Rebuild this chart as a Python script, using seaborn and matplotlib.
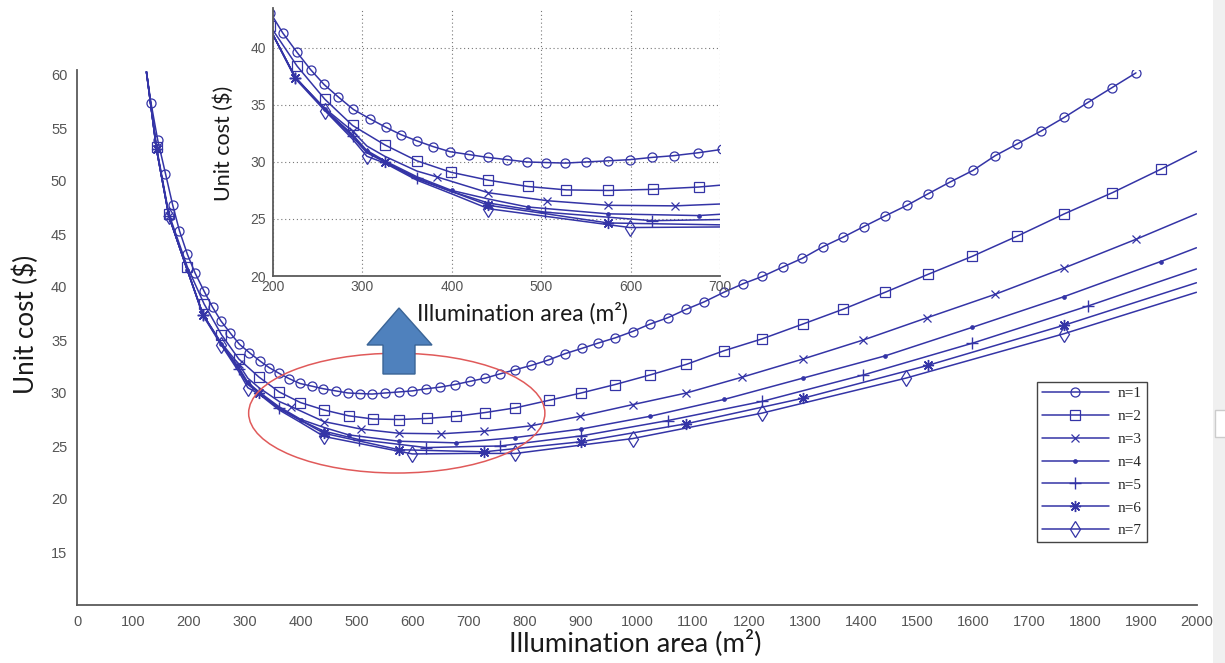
import matplotlib
matplotlib.use("Agg")
import matplotlib.pyplot as plt
import seaborn as sns
from matplotlib.lines import Line2D
from matplotlib.patches import Ellipse, Polygon, Rectangle

# Unit cost ($) against illumination area (m^2) for n = 1..7
area_n1 = [124, 132, 144, 158, 171, 183, 197, 211, 227, 242, 257, 273, 290, 308, 326, 343,
           361, 379, 398, 419, 440, 462, 484, 505, 527, 550, 575, 599, 624, 648, 675, 702,
           729, 755, 783, 811, 841, 871, 901, 930, 961, 992, 1023, 1055, 1088, 1120, 1155,
           1189, 1224, 1261, 1295, 1332, 1368, 1405, 1443, 1482, 1520, 1559, 1600, 1640,
           1679, 1721, 1763, 1805, 1848, 1891]
cost_n1 = [60.3, 57.4, 53.9, 50.7, 47.7, 45.3, 43.1, 41.3, 39.6, 38.1, 36.8, 35.7, 34.6, 33.8,
           33.05, 32.4, 31.85, 31.35, 30.9, 30.65, 30.4, 30.2, 30.0, 29.95, 29.9, 30.0, 30.1,
           30.2, 30.4, 30.55, 30.8, 31.1, 31.4, 31.8, 32.2, 32.6, 33.1, 33.7, 34.2, 34.7, 35.2,
           35.8, 36.5, 37.1, 37.9, 38.6, 39.5, 40.3, 41.0, 41.9, 42.7, 43.8, 44.7, 45.7, 46.7,
           47.7, 48.8, 49.9, 51.0, 52.4, 53.5, 54.7, 56.0, 57.4, 58.8, 60.2]
marks_n1 = area_n1[1:]

area_n2 = [124, 142, 164, 197, 227, 258, 289, 325, 361, 399, 441, 485, 528, 575, 625, 676, 728,
           783, 842, 900, 961, 1023, 1088, 1156, 1223, 1296, 1368, 1443, 1520, 1599, 1679,
           1763, 1849, 1935, 1999]
cost_n2 = [60.3, 53.2, 46.9, 41.9, 38.4, 35.5, 33.2, 31.5, 30.1, 29.1, 28.4, 27.85, 27.55, 27.5,
           27.6, 27.8, 28.15, 28.6, 29.3, 30.0, 30.8, 31.7, 32.7, 34.0, 35.1, 36.5, 37.9, 39.5,
           41.2, 42.9, 44.8, 46.9, 48.9, 51.1, 52.8]
marks_n2 = area_n2[1:-1]

area_n3 = [124, 142, 164, 197, 225, 258, 289, 305, 325, 361, 383, 441, 507, 575, 650, 727, 810,
           898, 992, 1088, 1188, 1296, 1404, 1518, 1639, 1763, 1891, 1999]
cost_n3 = [60.3, 53.0, 46.7, 41.6, 37.4, 34.7, 32.7, 31.4, 30.5, 29.2, 28.7, 27.3, 26.6, 26.2,
           26.15, 26.4, 26.9, 27.8, 28.9, 30.0, 31.5, 33.2, 35.0, 37.1, 39.3, 41.8, 44.5, 46.9]
marks_n3 = [164, 225, 289, 383, 441, 507, 575, 650, 727, 810, 898, 992, 1088, 1188, 1296, 1404,
            1518, 1639, 1763, 1891]

area_n4 = [124, 142, 164, 197, 225, 258, 289, 305, 325, 361, 400, 441, 485, 575, 676, 783, 900,
           1023, 1156, 1296, 1443, 1599, 1763, 1935, 1999]
cost_n4 = [60.3, 53.0, 46.7, 41.6, 37.4, 34.6, 32.4, 31.0, 30.1, 28.7, 27.5, 26.75, 26.05, 25.45,
           25.3, 25.8, 26.6, 27.8, 29.4, 31.4, 33.5, 36.2, 39.1, 42.4, 43.7]
marks_n4 = [142, 197, 258, 305, 400, 485, 575, 676, 783, 900, 1023, 1156, 1296, 1443, 1599,
            1763, 1935]

area_n5 = [124, 142, 164, 197, 225, 258, 289, 305, 325, 361, 400, 441, 504, 624, 700, 755, 900,
           1055, 1223, 1404, 1599, 1805, 1999]
cost_n5 = [60.3, 53.0, 46.7, 41.6, 37.4, 34.6, 32.3, 30.9, 30.0, 28.6, 27.4, 26.4, 25.6, 24.85,
           24.95, 25.0, 25.95, 27.4, 29.2, 31.7, 34.7, 38.2, 41.7]
marks_n5 = [164, 225, 289, 361, 504, 624, 755, 900, 1055, 1223, 1404, 1599, 1805]

area_n6 = [124, 142, 164, 197, 225, 258, 289, 305, 325, 361, 400, 441, 575, 727, 900, 1088,
           1296, 1519, 1763, 1999]
cost_n6 = [60.3, 53.0, 46.7, 41.6, 37.4, 34.6, 32.2, 30.8, 30.0, 28.5, 27.4, 26.2, 24.65, 24.45,
           25.4, 27.1, 29.5, 32.6, 36.4, 40.4]
marks_n6 = [142, 225, 325, 441, 575, 727, 900, 1088, 1296, 1519, 1763]

area_n7 = [124, 142, 164, 197, 225, 258, 289, 305, 325, 361, 400, 441, 599, 700, 783, 992, 1223,
           1480, 1763, 1999]
cost_n7 = [60.3, 53.0, 46.7, 41.6, 37.3, 34.5, 32.0, 30.5, 29.9, 28.4, 27.2, 25.9, 24.25, 24.3,
           24.3, 25.7, 28.1, 31.4, 35.6, 39.5]
marks_n7 = [164, 258, 305, 441, 599, 783, 992, 1223, 1480, 1763]

labels = ["n=1", "n=2", "n=3", "n=4", "n=5", "n=6", "n=7"]
x_ticks = list(range(0, 2001, 100))
y_ticks = list(range(15, 61, 5))
inset_x_ticks = list(range(200, 701, 100))
inset_y_ticks = list(range(20, 41, 5))

series = [
    (area_n1, cost_n1, marks_n1),
    (area_n2, cost_n2, marks_n2),
    (area_n3, cost_n3, marks_n3),
    (area_n4, cost_n4, marks_n4),
    (area_n5, cost_n5, marks_n5),
    (area_n6, cost_n6, marks_n6),
    (area_n7, cost_n7, marks_n7),
]

LINE = "#3434A6"
styles = [
    dict(marker="o", ms=6.5, mfc="none", mew=0.9),
    dict(marker="s", ms=7, mfc="none", mew=0.9),
    dict(marker="x", ms=6, mew=0.9),
    dict(marker="o", ms=2.8, mfc=LINE, mew=0.5),
    dict(marker="+", ms=9, mew=1.0),
    dict(marker=(8, 2, 0), ms=8, mew=1.0),
    dict(marker="d", ms=8, mfc="none", mew=0.9),
]

sns.set_theme(style="white")
plt.rcParams["font.family"] = ["Liberation Sans", "DejaVu Sans"]

W, H = 1225, 663
fig = plt.figure(figsize=(W / 100, H / 100), dpi=100)
fig.patch.set_facecolor("white")


def fx(px):
    return px / W


def fy(py):
    return 1 - py / H


SPINE = "#5a5a5a"
TICKC = "#555555"


def draw_series(ax):
    for (xs, ys, mk), st in zip(series, styles):
        idx = [xs.index(m) for m in mk]
        sns.lineplot(x=xs, y=ys, ax=ax, color=LINE, lw=1.1, estimator=None, sort=False,
                     markevery=idx, mec=LINE, **st)


# main axes
ax = fig.add_axes([fx(77), fy(605), fx(1120), (605 - 69.7) / H])
draw_series(ax)
ax.set_xlim(0, 2000)
ax.set_ylim(10, 60.5)
ax.set_xticks(x_ticks)
ax.set_yticks(y_ticks)
for s in ["top", "right"]:
    ax.spines[s].set_visible(False)
for s in ["left", "bottom"]:
    ax.spines[s].set_color(SPINE)
    ax.spines[s].set_linewidth(1.3)
ax.tick_params(direction="in", length=8, width=1.2, color=SPINE, labelcolor=TICKC,
               labelsize=10.5, pad=7)
ax.set_xlabel("Illumination area (m²)", fontfamily="Lato", fontsize=19.7, color="#1a1a1a")
ax.set_ylabel("Unit cost ($)", fontfamily="Lato", fontsize=18.7, color="#1a1a1a")
ax.xaxis.set_label_coords((635 - 77) / 1120, -(643 - 605) / 535.3)
ax.yaxis.set_label_coords(-(77 - 26) / 1120, (605 - 324) / 535.3)
ax.xaxis.label.set_va("center")
ax.yaxis.label.set_va("center")

# highlighted minimum region
ax.add_patch(Ellipse((571, 28.1), 529, 11.3, fill=False, ec="#e05a5a", lw=1.1, zorder=5))

handles = [Line2D([], [], color=LINE, lw=1.1, mec=LINE, **st) for st in styles]
leg = ax.legend(handles, labels, loc="upper left", bbox_to_anchor=(fx(1037), fy(382)),
                bbox_transform=fig.transFigure, borderaxespad=0, frameon=True,
                fancybox=False, edgecolor="#444444", framealpha=1, handlelength=4.4,
                handletextpad=0.6, labelspacing=0.6, borderpad=0.3, numpoints=1,
                prop=dict(family="Liberation Serif", size=11))
leg.get_frame().set_linewidth(1.0)

# inset: zoom on 200-700 m^2
ins = fig.add_axes([fx(273), fy(276), fx(447), (276 - 8) / H])
ins.set_facecolor("white")
draw_series(ins)
ins.set_xlim(200, 700)
ins.set_ylim(20, 43.5)
ins.set_xticks(inset_x_ticks)
ins.set_yticks(inset_y_ticks)
ins.grid(True, linestyle=(0, (1, 2.5)), color="#777777", lw=0.8)
for s in ["top", "right"]:
    ins.spines[s].set_visible(False)
for s in ["left", "bottom"]:
    ins.spines[s].set_color(SPINE)
    ins.spines[s].set_linewidth(1.3)
ins.tick_params(direction="in", length=5, width=1, color=SPINE, labelcolor=TICKC,
                labelsize=10, pad=3)
ins.tick_params(axis="y", pad=5)
ins.set_xlabel("Illumination area (m²)", fontfamily="Lato", fontsize=16.4, color="#1a1a1a")
ins.set_ylabel("Unit cost ($)", fontfamily="Lato", fontsize=15.5, color="#1a1a1a")
ins.xaxis.set_label_coords((522 - 273) / 447, -(313 - 276) / 268)
ins.yaxis.set_label_coords(-(273 - 224) / 447, (276 - 143) / 268)
ins.xaxis.label.set_va("center")
ins.yaxis.label.set_va("center")

# arrow pointing from the ellipse to the inset
arrow_px = [(399, 308), (432, 345), (415, 345), (415, 374), (383, 374), (383, 345), (367, 345)]
fig.patches.append(Polygon([(fx(a), fy(b)) for a, b in arrow_px], closed=True,
                           transform=fig.transFigure, fc="#4f81bd", ec="#3a6496", lw=1,
                           zorder=6))

# window edge on the right
fig.patches.append(Rectangle((fx(1213), 0), 1 - fx(1213), 1, transform=fig.transFigure,
                             fc="#f0f0f0", ec="none", zorder=0))
fig.patches.append(Rectangle((fx(1215), fy(437)), fx(12), (437 - 410) / H,
                             transform=fig.transFigure, fc="white", ec="#cccccc", lw=1,
                             zorder=1))

fig.savefig("out.png", dpi=100)
